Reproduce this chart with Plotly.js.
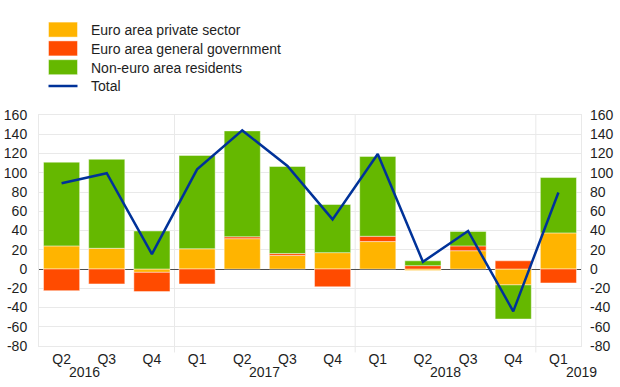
<!DOCTYPE html>
<html>
<head>
<meta charset="utf-8">
<script src="https://cdn.plot.ly/plotly-3.0.1.min.js"></script>
<style>
  html, body { margin: 0; padding: 0; background: #fff; }
  #chart { width: 620px; height: 387px; }
</style>
</head>
<body>
<div id="chart"></div>
<script>
// ---- data (EUR billions, quarterly) ----
const quarterLabels = ["Q2", "Q3", "Q4", "Q1", "Q2", "Q3", "Q4", "Q1", "Q2", "Q3", "Q4", "Q1"];
const yearLabels = ["2016", "2017", "2018", "2019"];
const yearLabelPositions = [0.5, 4.5, 8.5, 11.5];
const yearSeparators = [2.5, 6.5, 10.5];
const seriesNames = ["Euro area private sector", "Euro area general government", "Non-euro area residents", "Total"];
const privateSector = [24, 21.5, -3.5, 21, 31.5, 14, 17, 28.5, -1.5, 19, -16.5, 37.5];
const generalGovernment = [-22.5, -15.5, -20, -15.5, 2, 2, -18.5, 5.5, 3.5, 5, 8.5, -14.5];
const nonEuroResidents = [87, 92.5, 39.5, 97, 110, 90.5, 50, 83, 5, 15, -35.5, 57.5];
const total = [89, 99.5, 15.5, 103.5, 144, 107, 51.5, 119.5, 7.5, 39.5, -44, 79.5];
const yTicks = [-80, -60, -40, -20, 0, 20, 40, 60, 80, 100, 120, 140, 160];

const xIdx = quarterLabels.map((_, i) => i);
const FONT = "Liberation Sans, Arial, Helvetica, sans-serif";
const TEXT = "#1e1e1e";
const GRID = "#e9e9e9";
const barLine = { color: "rgba(255,255,255,0.45)", width: 1 };

const traces = [
  { type: "bar", name: seriesNames[0], x: xIdx, y: privateSector,
    marker: { color: "#FFB400", line: barLine }, hoverinfo: "y+name" },
  { type: "bar", name: seriesNames[1], x: xIdx, y: generalGovernment,
    marker: { color: "#FF4B00", line: barLine }, hoverinfo: "y+name" },
  { type: "bar", name: seriesNames[2], x: xIdx, y: nonEuroResidents,
    marker: { color: "#65B800", line: barLine }, hoverinfo: "y+name" },
  { type: "scatter", mode: "lines", name: seriesNames[3], x: xIdx, y: total,
    yaxis: "y2", line: { color: "#003299", width: 2.5 }, hoverinfo: "y+name" }
];

const yCommon = {
  range: [-80, 160], tickvals: yTicks, ticktext: yTicks.map(String),
  tickfont: { family: FONT, size: 14, color: TEXT },
  ticks: "", ticklabelstandoff: 8, fixedrange: true
};

const layout = {
  width: 620, height: 387,
  margin: { l: 39, r: 39, t: 115, b: 41, autoexpand: false },
  paper_bgcolor: "#ffffff", plot_bgcolor: "#ffffff",
  font: { family: FONT, size: 14, color: TEXT },
  barmode: "relative", bargap: 0.2,
  showlegend: true,
  legend: {
    xref: "container", yref: "container",
    x: 43 / 620, y: 1 - 14 / 387, xanchor: "left", yanchor: "top",
    font: { family: FONT, size: 14, color: TEXT },
    bgcolor: "rgba(0,0,0,0)", borderwidth: 0, itemwidth: 38,
    traceorder: "normal", itemclick: false, itemdoubleclick: false
  },
  xaxis: {
    range: [-0.5, 11.5], tickvals: xIdx, ticktext: quarterLabels,
    tickfont: { family: FONT, size: 14, color: TEXT },
    ticks: "", ticklabelstandoff: 0,
    showgrid: false, zeroline: false,
    showline: true, mirror: true, linecolor: GRID, linewidth: 1,
    fixedrange: true
  },
  yaxis: Object.assign({}, yCommon, {
    side: "left", showgrid: true, gridcolor: GRID, gridwidth: 1,
    zeroline: true, zerolinecolor: "#4d4d4d", zerolinewidth: 1,
    showline: true, mirror: true, linecolor: GRID, linewidth: 1
  }),
  yaxis2: Object.assign({}, yCommon, {
    side: "right", overlaying: "y", showgrid: false, zeroline: false, showline: false
  }),
  shapes: yearSeparators.map(v => ({
    type: "line", xref: "x", yref: "paper", x0: v, x1: v, y0: -0.028, y1: 1,
    line: { color: GRID, width: 1 }, layer: "below"
  })),
  annotations: yearLabels.map((t, i) => ({
    text: t, xref: "x", yref: "paper", x: yearLabelPositions[i], y: 0,
    xanchor: "center", yanchor: "middle", yshift: -26, showarrow: false,
    font: { family: FONT, size: 14, color: TEXT }
  }))
};

Plotly.newPlot("chart", traces, layout, { displayModeBar: false, staticPlot: true }).then(() => {
  // legend key styling: wide swatches and a tighter row pitch, as in the reference
  document.querySelectorAll("#chart .legend .legendpoints path").forEach(p => {
    const d = (p.getAttribute("d") || "").replace(/\s/g, "");
    if (d === "M6,6H-6V-6H6Z") {
      p.setAttribute("d", "M5.5,-7.5h29v15h-29Z");
      p.removeAttribute("transform");
    }
  });
  document.querySelectorAll("#chart .legend path.js-line").forEach(p => {
    p.setAttribute("d", "M5.5,0h29");
  });
  const items = Array.from(document.querySelectorAll("#chart .legend g.traces"));
  if (items.length) {
    const m = /translate\(\s*([-\d.]+)[ ,]+([-\d.]+)/.exec(items[0].getAttribute("transform") || "");
    if (m) {
      const x0 = parseFloat(m[1]), y0 = parseFloat(m[2]);
      items.forEach((g, i) => g.setAttribute("transform", `translate(${x0},${y0 + i * 18.8})`));
    }
  }
});
</script>
</body>
</html>
